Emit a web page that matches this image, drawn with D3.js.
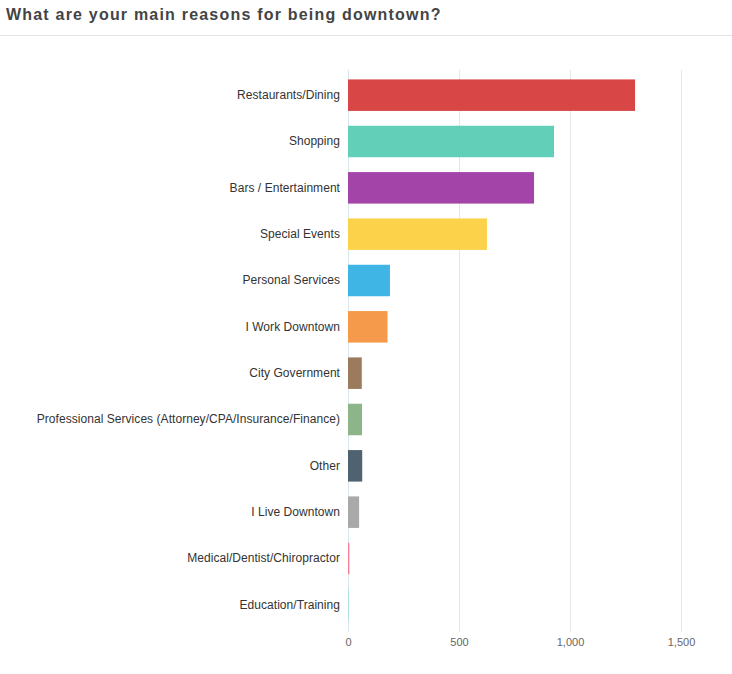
<!DOCTYPE html>
<html>
<head>
<meta charset="utf-8">
<script src="https://cdn.jsdelivr.net/npm/d3@7"></script>
<style>
  body { margin: 0; background: #fff; }
  svg { display: block; font-family: "Liberation Sans", Arial, sans-serif; }
</style>
</head>
<body>
<div id="chart"></div>
<script>
var reasons = ['Restaurants/Dining', 'Shopping', 'Bars / Entertainment', 'Special Events', 'Personal Services',
  'I Work Downtown', 'City Government', 'Professional Services (Attorney/CPA/Insurance/Finance)', 'Other',
  'I Live Downtown', 'Medical/Dentist/Chiropractor', 'Education/Training'];
var counts = [1293, 928, 838, 626, 189, 178, 62, 63, 64, 50, 6, 4];
var barColors = ['#d84646', '#62d0b8', '#a345a8', '#fdd24b', '#3fb5e6', '#f59a4b', '#9b7a5e', '#8cb58a',
  '#4e636f', '#a9a9a9', '#f27d94', '#a9e0dc'];
var tickVals = [0, 500, 1000, 1500];

var W = 732, H = 674;
var m = {t: 72, l: 348, r: 51, b: 46};

var svg = d3.select("#chart").append("svg")
    .attr("width", W)
    .attr("height", H);

// title + rule under it
svg.append("text")
    .attr("x", 6)
    .attr("y", 20)
    .attr("font-size", "16px")
    .attr("font-weight", "bold")
    .attr("letter-spacing", "1.2px")
    .attr("fill", "#444")
    .text("What are your main reasons for being downtown?");

svg.append("line")
    .attr("x1", 0).attr("x2", W)
    .attr("y1", 35.5).attr("y2", 35.5)
    .attr("stroke", "#e3e3e3");

var x = d3.scaleLinear()
    .domain([0, 1500])
    .range([m.l, 681]);

var y = d3.scaleBand()
    .domain(reasons)
    .range([m.t, H - m.b])
    .paddingInner(0.32)
    .paddingOuter(0.16);

// grid
svg.append("g")
    .selectAll("line")
    .data(tickVals)
    .join("line")
    .attr("x1", d => Math.round(x(d)) + 0.5)
    .attr("x2", d => Math.round(x(d)) + 0.5)
    .attr("y1", 70)
    .attr("y2", 632)
    .attr("stroke", d => d == 0 ? "#d8e6ee" : "#e6e6e6");

// x axis labels
var xAxis = svg.append("g")
    .attr("transform", "translate(0," + 632 + ")")
    .call(d3.axisBottom(x).tickValues(tickVals).tickSize(0).tickPadding(6).tickFormat(d3.format(",")));
xAxis.select(".domain").remove();
xAxis.selectAll("text")
    .attr("font-size", "11px")
    .attr("fill", "#666")
    .attr("font-family", "Liberation Sans, Arial, sans-serif");

// y axis labels
var yAxis = svg.append("g")
    .attr("transform", "translate(" + 340 + ",0)")
    .call(d3.axisLeft(y).tickSize(0).tickPadding(0));
yAxis.select(".domain").remove();
yAxis.selectAll("text")
    .attr("font-size", "12px")
    .attr("fill", "#333")
    .attr("letter-spacing", "0.05px")
    .attr("font-family", "Liberation Sans, Arial, sans-serif");

// bars
svg.append("g")
    .selectAll("rect")
    .data(reasons)
    .join("rect")
    .attr("x", x(0))
    .attr("y", d => y(d))
    .attr("width", (d, i) => x(counts[i]) - x(0))
    .attr("height", y.bandwidth())
    .attr("fill", (d, i) => barColors[i]);
</script>
</body>
</html>
